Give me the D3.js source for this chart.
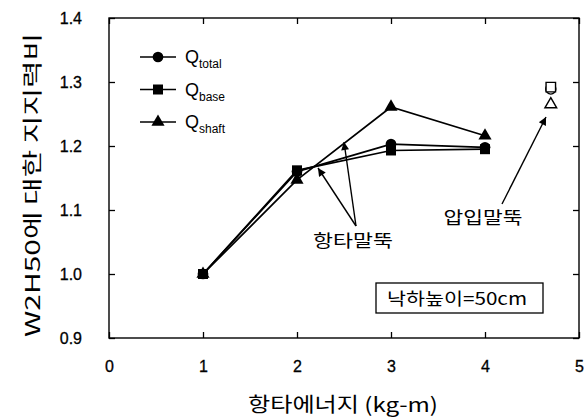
<!DOCTYPE html>
<html><head><meta charset="utf-8">
<script src="https://cdn.jsdelivr.net/npm/d3@7"></script>
<style>
body{margin:0;background:#fff}
text{font-family:Arial,"Liberation Sans","Noto Sans CJK KR",sans-serif;fill:#000}
</style></head>
<body><svg id="chart" width="585" height="418"></svg>
<script>
// data
var energy=[1,2,3,4];
var qTotal=[1.0,1.16,1.203,1.198];
var qBase=[1.0,1.162,1.193,1.195];
var qShaft=[1.0,1.147,1.261,1.216];
var pressX=4.7;
var pressTotal=1.289, pressBase=1.292, pressShaft=1.265;
var xTicks=[0,1,2,3,4,5];
var yTicks=[0.9,1.0,1.1,1.2,1.3,1.4];

var svg=d3.select('#chart');
var ml=109, mr=6, mt=18, mb=80, W=585, H=418;
var x=d3.scaleLinear().domain([0,5]).range([ml,W-mr]);
var y=d3.scaleLinear().domain([0.9,1.4]).range([H-mb,mt]);
var KR='"Noto Sans CJK KR",sans-serif';

// frame
svg.append('rect').attr('x',x(0)).attr('y',y(1.4)).attr('width',x(5)-x(0)).attr('height',y(0.9)-y(1.4))
  .attr('fill','none').attr('stroke','#000').attr('stroke-width',1.4);

// axes, ticks inward
svg.append('g').attr('transform','translate(0,'+y(0.9)+')')
  .call(d3.axisBottom(x).tickValues(xTicks).tickSizeInner(-6).tickSizeOuter(0).tickPadding(23).tickFormat(d3.format('d')))
  .call(function(g){g.select('.domain').remove();g.selectAll('text').attr('font-size','16px').attr('stroke','#000').attr('stroke-width',0.3);});
svg.append('g').attr('transform','translate(0,'+y(1.4)+')')
  .call(d3.axisTop(x).tickValues(xTicks).tickSizeInner(-6).tickSizeOuter(0).tickFormat(''))
  .call(function(g){g.select('.domain').remove();});
svg.append('g').attr('transform','translate('+x(0)+',0)')
  .call(d3.axisLeft(y).tickValues(yTicks).tickSizeInner(-6).tickSizeOuter(0).tickPadding(27).tickFormat(d3.format('.1f')))
  .call(function(g){g.select('.domain').remove();g.selectAll('text').attr('font-size','16px').attr('stroke','#000').attr('stroke-width',0.3);});
svg.append('g').attr('transform','translate('+x(5)+',0)')
  .call(d3.axisRight(y).tickValues(yTicks).tickSizeInner(-6).tickSizeOuter(0).tickFormat(''))
  .call(function(g){g.select('.domain').remove();});
svg.selectAll('.tick line').attr('stroke','#000').attr('stroke-width',1.3);

// axis titles
svg.append('text').attr('x',343).attr('y',412).attr('text-anchor','middle')
  .attr('font-size','20px').attr('textLength',190).attr('lengthAdjust','spacingAndGlyphs')
  .style('font-family',KR).text('항타에너지 (kg-m)');
svg.append('text').attr('transform','translate(40,185) rotate(-90)').attr('text-anchor','middle')
  .attr('font-size','20px').attr('textLength',304).attr('lengthAdjust','spacingAndGlyphs')
  .style('font-family',KR).text('W2H50에 대한 지지력비');

// series
var line=d3.line().x(function(d,i){return x(energy[i]);}).y(function(d){return y(d);});
var series=[
  {name:'total',vals:qTotal,sym:d3.symbolCircle,size:90},
  {name:'base',vals:qBase,sym:d3.symbolSquare,size:100},
  {name:'shaft',vals:qShaft,sym:d3.symbolTriangle,size:75}
];
series.forEach(function(s){
  svg.append('path').datum(s.vals).attr('d',line).attr('fill','none').attr('stroke','#000').attr('stroke-width',1.7);
});
series.forEach(function(s){
  s.vals.forEach(function(v,i){
    svg.append('path').attr('d',d3.symbol().type(s.sym).size(s.size)())
      .attr('transform','translate('+x(energy[i])+','+y(v)+')').attr('fill','#000');
  });
});

// press-in pile (open symbols)
[[d3.symbolCircle,pressTotal,80],[d3.symbolSquare,pressBase,90],[d3.symbolTriangle,pressShaft,60]].forEach(function(p){
  svg.append('path').attr('d',d3.symbol().type(p[0]).size(p[2])())
    .attr('transform','translate('+x(pressX)+','+y(p[1])+')')
    .attr('fill','#fff').attr('stroke','#000').attr('stroke-width',1.4);
});

// legend
var lg=[['total',d3.symbolCircle,90],['base',d3.symbolSquare,100],['shaft',d3.symbolTriangle,75]];
lg.forEach(function(l,i){
  var ly=57+i*32.5;
  svg.append('line').attr('x1',140).attr('x2',176).attr('y1',ly).attr('y2',ly).attr('stroke','#000').attr('stroke-width',1.5);
  svg.append('path').attr('d',d3.symbol().type(l[1]).size(l[2])()).attr('transform','translate(158,'+ly+')').attr('fill','#000');
  var t=svg.append('text').attr('x',185).attr('y',ly+6).attr('font-size','18px');
  t.append('tspan').text('Q');
  t.append('tspan').attr('font-size','12px').attr('dy',5).text(l[0]);
});

// annotations
var defs=svg.append('defs');
defs.append('marker').attr('id','ah').attr('viewBox','0 0 10 10').attr('refX',10).attr('refY',5)
  .attr('markerWidth',13).attr('markerHeight',8).attr('markerUnits','userSpaceOnUse').attr('orient','auto')
  .append('path').attr('d','M0,0L10,5L0,10Z').attr('fill','#000');
function arrow(x1,y1,x2,y2){
  svg.append('line').attr('x1',x1).attr('y1',y1).attr('x2',x2).attr('y2',y2)
    .attr('stroke','#000').attr('stroke-width',1.4).attr('marker-end','url(#ah)');
}
arrow(356,226,318,168);
arrow(356,226,344,142);
arrow(502,204,546,117);
svg.append('text').attr('x',353).attr('y',247).attr('text-anchor','middle').attr('font-size','17px')
  .attr('textLength',80).attr('lengthAdjust','spacingAndGlyphs').style('font-family',KR).text('항타말뚝');
svg.append('text').attr('x',483).attr('y',224).attr('text-anchor','middle').attr('font-size','17px')
  .attr('textLength',79).attr('lengthAdjust','spacingAndGlyphs').style('font-family',KR).text('압입말뚝');

svg.append('rect').attr('x',376).attr('y',283).attr('width',167).attr('height',30)
  .attr('fill','#fff').attr('stroke','#000').attr('stroke-width',1.3);
svg.append('text').attr('x',457).attr('y',305).attr('text-anchor','middle').attr('font-size','17px')
  .attr('textLength',140).attr('lengthAdjust','spacingAndGlyphs').style('font-family',KR).text('낙하높이=50cm');
</script></body></html>
